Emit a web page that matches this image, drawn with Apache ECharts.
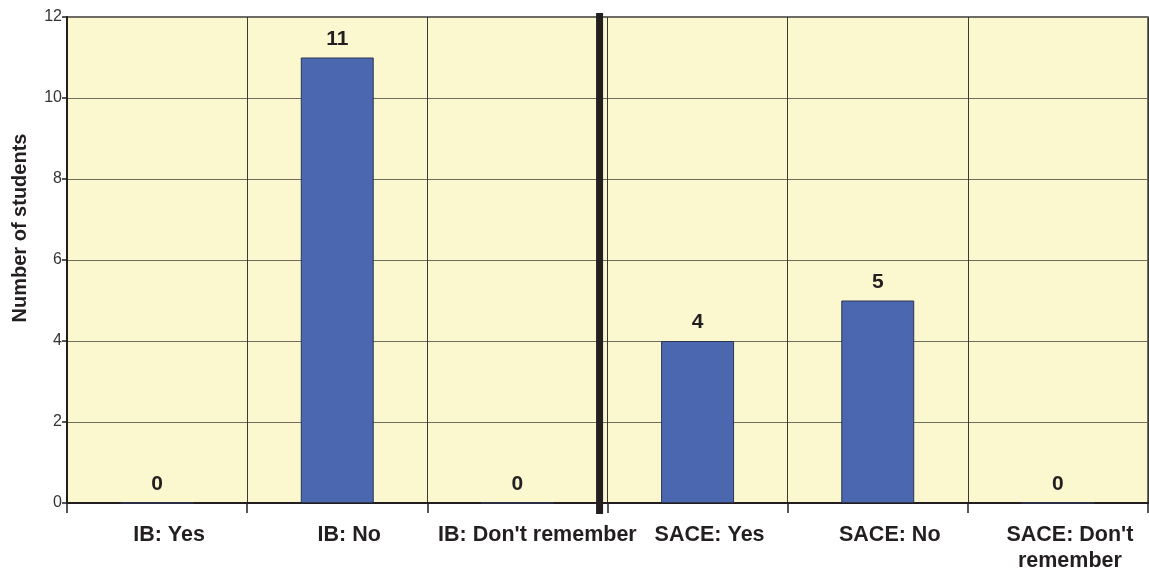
<!DOCTYPE html>
<html>
<head>
<meta charset="utf-8">
<script src="https://cdn.jsdelivr.net/npm/echarts@6/dist/echarts.min.js"></script>
<style>
html,body{margin:0;padding:0;background:#fff;}
#chart{width:1149px;height:574px;}
</style>
</head>
<body>
<div id="chart"></div>
<script>
var categories = ["IB: Yes", "IB: No", "IB: Don't remember", "SACE: Yes", "SACE: No", "SACE: Don't\nremember"];
var students = [0, 11, 0, 4, 5, 0];
var yTicks = [0, 2, 4, 6, 8, 10, 12];
var yAxisTitle = "Number of students";
// separator between IB and SACE groups, in category units along the x axis
var separatorX = 2.956;
var separatorYRange = [-0.27, 12.1];

var chart = echarts.init(document.getElementById('chart'), null, {renderer: 'canvas'});
var FONT = '"Liberation Sans", Arial, sans-serif';
var gridColor = '#6f6d5e';
var labelFont = {
  color: '#231f20',
  fontFamily: FONT,
  fontWeight: 'bold',
  fontSize: 21.5,
  lineHeight: 26
};
var option = {
  animation: false,
  backgroundColor: '#ffffff',
  grid: {
    left: 67, right: 1, top: 17, bottom: 69,
    show: true,
    backgroundColor: '#fbf8d0',
    borderColor: '#3a3a36',
    borderWidth: 1.5
  },
  xAxis: [{
    type: 'category',
    data: categories,
    axisLine: {show: true, lineStyle: {color: '#231f20', width: 2}},
    axisTick: {show: true, length: 10, lineStyle: {color: '#231f20', width: 1.5}},
    splitLine: {show: true, lineStyle: {color: '#3a3a36', width: 1}},
    axisLabel: Object.assign({
      interval: 0,
      margin: 19,
      padding: [0, 0, 0, 24],
      formatter: function (v, i) { return i === 2 ? '{w|' + v + '}' : v; },
      rich: {w: Object.assign({padding: [0, 0, 0, 16]}, labelFont)}
    }, labelFont)
  }, {
    type: 'value', min: 0, max: 6, show: false
  }],
  yAxis: [{
    type: 'value',
    min: 0, max: 12, interval: 2,
    axisLine: {show: true, lineStyle: {color: '#231f20', width: 2}},
    axisTick: {show: true, length: 5, lineStyle: {color: '#231f20', width: 1.5}},
    splitLine: {show: true, lineStyle: {color: gridColor, width: 1.2}},
    axisLabel: {
      margin: 5,
      color: '#333333',
      fontFamily: FONT,
      fontSize: 16,
      formatter: function (v) { return yTicks.indexOf(v) >= 0 ? String(v) : ''; }
    }
  }, {
    type: 'value', min: 0, max: 12, show: false
  }],
  series: [{
    type: 'bar',
    data: students,
    barWidth: '40.5%',
    itemStyle: {color: '#4a67b0', borderColor: '#2c3552', borderWidth: 1},
    label: {
      show: true,
      position: 'top',
      distance: 8,
      color: '#231f20',
      fontFamily: FONT,
      fontWeight: 'bold',
      fontSize: 21
    },
    z: 3
  }, {
    type: 'line',
    xAxisIndex: 1,
    yAxisIndex: 1,
    clip: false,
    symbol: 'none',
    silent: true,
    data: [[separatorX, separatorYRange[0]], [separatorX, separatorYRange[1]]],
    lineStyle: {color: '#231f20', width: 7},
    z: 5
  }],
  graphic: [{
    type: 'text',
    x: 20, y: 228,
    rotation: Math.PI / 2,
    style: {
      text: yAxisTitle,
      fill: '#231f20',
      font: 'bold 20px ' + FONT,
      align: 'center',
      verticalAlign: 'middle'
    }
  }]
};
chart.setOption(option);
</script>
</body>
</html>
